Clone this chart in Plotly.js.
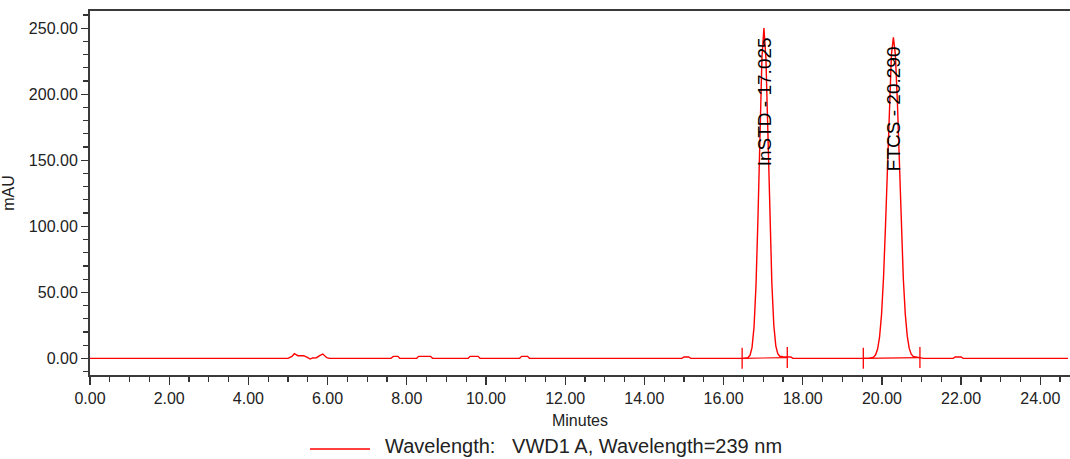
<!DOCTYPE html>
<html>
<head>
<meta charset="utf-8">
<script src="https://cdn.plot.ly/plotly-3.0.1.min.js"></script>
<style>
html,body{margin:0;padding:0;background:#fff;}
#chart{width:1070px;height:459px;}
</style>
</head>
<body>
<div id="chart"></div>
<script>
// Chromatogram trace (time in minutes, signal in mAU)
const timeMin = [0, 5.0, 5.1, 5.16, 5.25, 5.4, 5.5, 5.56, 5.62, 5.72, 5.8, 5.88, 5.98, 6.05,
  7.6, 7.66, 7.78, 7.82, 8.25, 8.3, 8.6, 8.65, 9.55, 9.6, 9.8, 9.85, 10.85, 10.9, 11.05, 11.1,
  14.95, 15.0, 15.12, 15.17,
  16.5, 16.62, 16.67, 16.72, 16.77, 16.82, 16.87, 16.92, 16.97, 17.02, 17.07, 17.12, 17.17,
  17.22, 17.27, 17.32, 17.37, 17.42, 17.5, 17.7, 17.75,
  19.6, 19.69, 19.79, 19.84, 19.89, 19.94, 19.99, 20.04, 20.09, 20.14, 20.19, 20.24, 20.29,
  20.34, 20.39, 20.44, 20.49, 20.54, 20.59, 20.64, 20.69, 20.74, 20.79, 20.89, 21.0, 21.05,
  21.8, 21.85, 22.0, 22.05, 24.7];
const signalMAU = [0, 0, 1.5, 3.5, 2.0, 2.0, 0.5, -0.5, 0.3, 0.5, 2.0, 3.3, 0.5, 0,
  0, 1.5, 1.5, 0, 0, 1.5, 1.5, 0, 0, 1.5, 1.5, 0, 0, 1.5, 1.5, 0,
  0, 1.0, 1.0, 0,
  0, 0.6, 2.4, 8.3, 23.5, 55.1, 106.7, 171.3, 227.5, 250, 227.5, 171.3, 106.7,
  57, 25, 9.5, 3.5, 1.6, 1.2, 1.0, 0,
  0, 0.1, 0.9, 2.7, 6.9, 16.0, 32.9, 60.6, 99.9, 147.4, 194.6, 229.9, 243,
  229.9, 194.6, 147.4, 99.9, 60.6, 33.5, 16.8, 7.5, 3.2, 1.5, 1.0, 0.8, 0,
  0, 1.0, 1.0, 0, 0];

// Integration baselines (peak start / end)
const peakStart = [16.47, 19.53];
const peakEnd = [17.61, 20.96];
const baseStartVal = [0, 0];
const baseEndVal = [0.6, 0.6];

// Peak labels
const peakNames = ["InSTD - 17.025", "FTCS - 20.290"];
const peakTimes = [17.025, 20.29];
const labelCenters = [194, 189];

const seriesName = "Wavelength:\u00a0\u00a0\u00a0VWD1 A, Wavelength=239 nm";

const bx = [], by = [];
for (let i = 0; i < peakStart.length; i++) {
  bx.push(peakStart[i], peakEnd[i], null);
  by.push(baseStartVal[i], baseEndVal[i], null);
}

const RED = '#ff0000';
const FONT = 'Liberation Sans, Arial, sans-serif';
const traces = [
  {x: timeMin, y: signalMAU, type: 'scatter', mode: 'lines', name: seriesName,
   line: {color: RED, width: 1.4}, showlegend: false},
  {x: bx, y: by, type: 'scatter', mode: 'lines+markers', showlegend: false,
   line: {color: RED, width: 1.2},
   marker: {symbol: 'line-ns-open', size: 15, color: RED, line: {color: RED, width: 1.3}}}
];

// plot area in px: left 90, right 1070, top 11, bottom 375
const L = 90, W = 980, T = 11, H = 364;
const px = v => (v - L) / W;
const py = v => (T + H - v) / H;

const annotations = peakNames.map((t, i) => ({
  x: peakTimes[i], y: labelCenters[i], xref: 'x', yref: 'y', text: t,
  textangle: -90, showarrow: false, xanchor: 'center', yanchor: 'middle',
  font: {family: FONT, size: 19, color: '#000'}
}));
// legend (drawn manually so it does not push the plot margins)
annotations.push({
  x: px(383), y: py(446), xref: 'paper', yref: 'paper', text: seriesName,
  showarrow: false, xanchor: 'left', yanchor: 'middle',
  font: {family: FONT, size: 20, color: '#222'}
});
const shapes = [{
  type: 'line', xref: 'paper', yref: 'paper',
  x0: px(310), x1: px(370), y0: py(449), y1: py(449),
  line: {color: RED, width: 1.5}
}];

const axisFont = {family: FONT, size: 16, color: '#222'};

const layout = {
  width: 1070, height: 459,
  margin: {l: L, r: 0, t: T, b: 459 - T - H},
  paper_bgcolor: '#fff', plot_bgcolor: '#fff',
  font: axisFont,
  xaxis: {
    range: [0, 24.75], showgrid: false, zeroline: false,
    showline: true, linecolor: '#3a3a3a', linewidth: 2, mirror: true,
    ticks: 'outside', ticklen: 8, tickwidth: 1.3, tickcolor: '#333',
    dtick: 2, tick0: 0, tickformat: '.2f', tickfont: axisFont,
    minor: {ticks: 'outside', dtick: 0.5, ticklen: 5, tickwidth: 1.2, tickcolor: '#333'},
    title: {text: 'Minutes', font: axisFont, standoff: 9}
  },
  yaxis: {
    range: [-12.6, 263], showgrid: false, zeroline: false,
    showline: true, linecolor: '#3a3a3a', linewidth: 2,
    ticks: 'outside', ticklen: 7, tickwidth: 1.3, tickcolor: '#333',
    dtick: 50, tick0: 0, tickformat: '.2f', tickfont: axisFont,
    minor: {ticks: 'outside', dtick: 10, ticklen: 5, tickwidth: 1.2, tickcolor: '#333'},
    title: {text: 'mAU', font: axisFont, standoff: 14}
  },
  showlegend: false,
  annotations: annotations,
  shapes: shapes
};

Plotly.newPlot('chart', traces, layout, {displayModeBar: false, staticPlot: true});
</script>
</body>
</html>
